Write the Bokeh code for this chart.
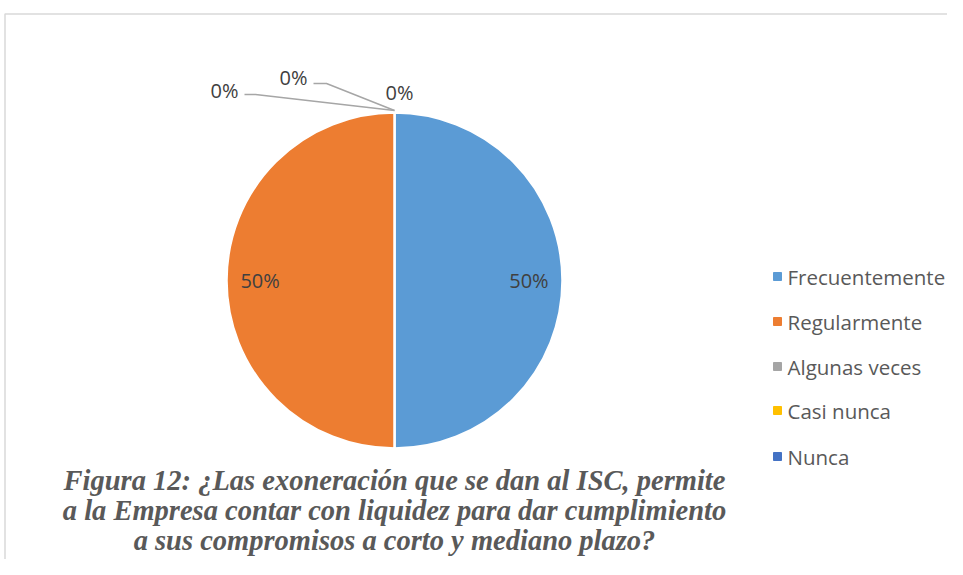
import numpy as np
from bokeh.plotting import figure
from bokeh.models import ColumnDataSource, Range1d
from bokeh.core.properties import value
from bokeh.embed import file_html
from bokeh.resources import INLINE

categories = ["Frecuentemente", "Regularmente", "Algunas veces", "Casi nunca", "Nunca"]
values = [50, 50, 0, 0, 0]
colors = ["#5B9BD5", "#ED7D31", "#A5A5A5", "#FFC000", "#4472C4"]
title_lines = [
    "Figura 12: ¿Las exoneración que se dan al ISC, permite",
    "a la Empresa contar con liquidez para dar cumplimiento",
    "a sus compromisos a corto y mediano plazo?",
]

W, H = 947, 559
def sx(px):
    return px
def sy(py):
    return H - py

p = figure(width=W, height=H, output_backend="svg", toolbar_location=None,
           x_range=Range1d(0, W), y_range=Range1d(0, H), min_border=0)
p.axis.visible = False
p.grid.visible = False
p.outline_line_color = None
p.background_fill_color = "white"

# chart border (top/left visible)
p.line([sx(4.5), sx(4.5), sx(1000)], [sy(700), sy(13.5), sy(13.5)], line_color="#D9D9D9", line_width=1.5)

# pie
cx, cy, r = sx(394), sy(280), 168
total = sum(values)
fr = np.array(values, dtype=float) / total
cum = np.concatenate([[0], np.cumsum(fr)])
start = np.pi / 2 - cum[:-1] * 2 * np.pi
end = np.pi / 2 - cum[1:] * 2 * np.pi
mask = fr > 0
src = ColumnDataSource(dict(start=start[mask], end=end[mask], color=[c for c, m in zip(colors, mask) if m]))
p.wedge(x=cx, y=cy, radius=r, start_angle="start", end_angle="end", direction="clock",
        fill_color="color", line_color="white", line_width=2.5, source=src)

FONT = value("Open Sans")
# labels for non-zero slices
mid = (start + end) / 2
labs_x, labs_y, labs_t = [], [], []
for i in range(len(values)):
    if values[i] > 0:
        labs_x.append(cx + 0.8 * r * np.cos(mid[i]))
        labs_y.append(cy + 0.8 * r * np.sin(mid[i]))
        labs_t.append(f"{values[i]}%")
p.text(labs_x, labs_y, text=labs_t, text_align="center", text_baseline="middle",
       text_font=FONT, text_font_size="20px", text_color="#404040")

# zero labels with leaders
zero_pos = [(224, 90), (293, 77), (399, 92)]
zi = [i for i in range(len(values)) if values[i] == 0]
for k, i in enumerate(zi):
    lx, ly = zero_pos[k]
    p.text([sx(lx)], [sy(ly)], text=[f"{values[i]}%"], text_align="center", text_baseline="middle",
           text_font=FONT, text_font_size="20px", text_color="#404040")
p.line([sx(394), sx(255), sx(244)], [sy(110), sy(94), sy(94)], line_color="#A6A6A6", line_width=1.5)
p.line([sx(394), sx(326), sx(313)], [sy(110), sy(83), sy(83)], line_color="#A6A6A6", line_width=1.5)

# legend
leg_y = [276, 321, 366, 410, 456]
p.scatter([sx(777)] * 5, [sy(y) for y in leg_y], marker="square", size=8, color=colors)
p.text([sx(787)] * 5, [sy(y) for y in leg_y], text=categories, text_align="left", text_baseline="middle",
       text_font=FONT, text_font_size="20.5px", text_color="#595959")

# title
title_y = [480, 510, 540]
p.text([sx(394)] * 3, [sy(y) for y in title_y], text=title_lines, text_align="center", text_baseline="alphabetic",
       text_font=value("Liberation Serif"), text_font_size="28.5px", text_font_style="bold italic",
       text_color="#595959")

open("out.html", "w").write(file_html(p, INLINE))
